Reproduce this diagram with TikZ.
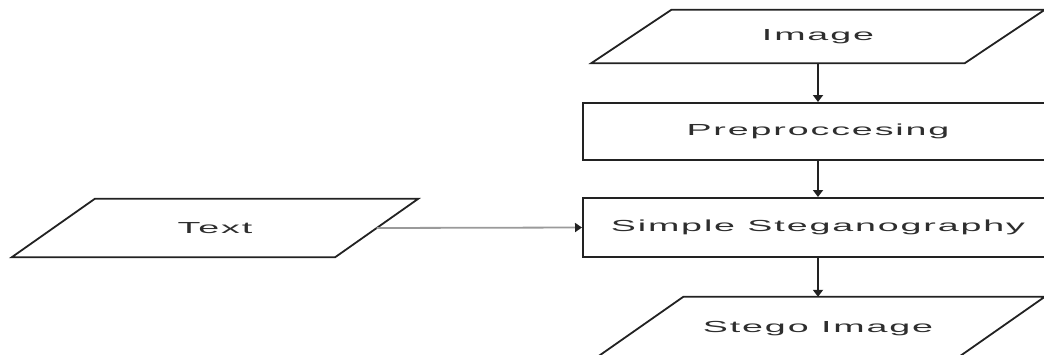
\documentclass[tikz,border=0pt]{standalone}
\usepackage{fontspec}
\usetikzlibrary{arrows.meta}
\newfontfamily\lblfont[LetterSpace=5]{Liberation Sans}
\newcommand\wide[1]{\scalebox{2.35}[1]{#1}}
\definecolor{edge}{HTML}{222222}
\definecolor{ink}{HTML}{2E2E2E}
\definecolor{feed}{HTML}{9A9A9A}
\tikzset{
  box/.style={draw=edge, line width=2pt, fill=white, minimum height=#1, inner sep=0pt},
  iobox/.style={minimum height=#1, inner sep=0pt},
  lbl/.style={font=\lblfont\fontsize{16}{18}\selectfont, text=ink},
  outline/.style={draw=edge, line width=1.8pt},
  flow/.style={draw=edge, line width=2pt, -{Triangle[length=7pt,width=10pt]}},
  side/.style={draw=feed, line width=1.8pt, arrows={-{Triangle[length=7pt,width=9pt,color=edge]}}},
}
% parallelogram drawn over a node's box: #1 node name, #2 slant
\newcommand\ioshape[2]{\path[outline] ([xshift=#2]#1.north west) -- (#1.north east) -- ([xshift=-#2]#1.south east) -- (#1.south west) -- cycle;}
\begin{document}
\begin{tikzpicture}[x=1pt,y=-1pt]
\useasboundingbox (0,0) rectangle (1044,354);
\clip (0,0) rectangle (1044,354);
% input image
\node[iobox=53pt, minimum width=453pt, lbl] (img) at (818,36.5) {\wide{Image}};
\ioshape{img}{80pt}
% preprocessing step
\node[box=57pt, minimum width=470pt, lbl] (pre) at (818,131.5) {\wide{Preproccesing}};
% embedding step
\node[box=59pt, minimum width=470pt, lbl] (steg) at (818,227.5) {\wide{Simple Steganography}};
% secret text
\node[iobox=58pt, minimum width=406pt, lbl] (txt) at (215,228) {\wide{Text}};
\ioshape{txt}{83pt}
% output image
\node[iobox=64pt, minimum width=453pt, lbl] (out) at (818,329) {\wide{Stego Image}};
\ioshape{out}{92pt}
% connectors
\draw[flow] (img) -- (pre);
\draw[flow] (pre) -- (steg);
\draw[flow] (steg) -- (out.north);
\draw[side] ([xshift=-41.5pt]txt.east) -- (steg.west);
\end{tikzpicture}
\end{document}
